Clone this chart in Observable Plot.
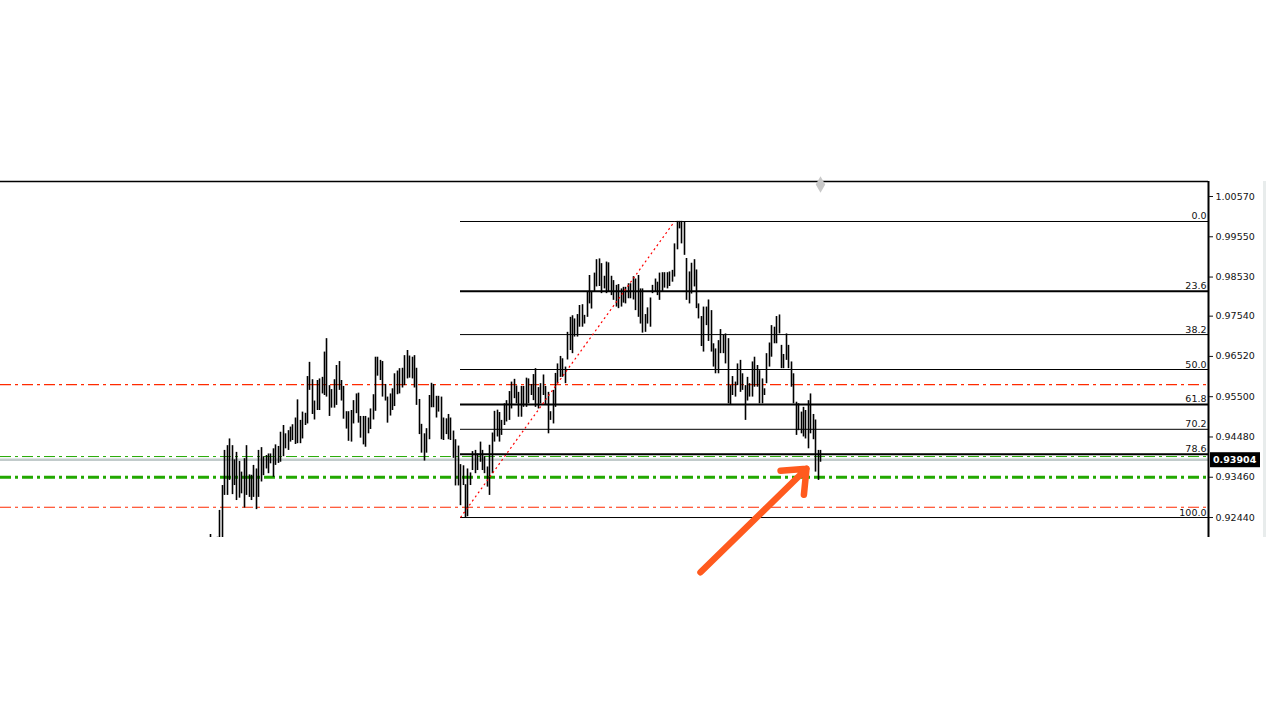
<!DOCTYPE html>
<html><head><meta charset="utf-8">
<script src="https://cdn.jsdelivr.net/npm/d3@7"></script>
<script src="https://cdn.jsdelivr.net/npm/@observablehq/plot@0.6"></script>
<style>
html,body{margin:0;padding:0;background:#fff;overflow:hidden;}
#chart{position:relative;width:1280px;height:720px;}
#edge{position:absolute;left:1263px;top:181px;width:3px;height:356px;background:#e8ecec;}
</style></head><body><div id="chart"><div id="edge"></div></div>
<script>
// Bar highs and lows in pips (price × 10000); null = bar not visible in the picture
const barHigh = [
9201,null,null,9194,9262,9325,9414,9426,9443,9426,
9390,9409,9386,9359,9393,9426,9352,9351,9376,9367,
9414,9421,9398,9401,9405,9405,9418,9428,9424,9460,
9477,9456,9464,9473,9479,9496,9542,9490,9511,9508,
9601,9637,9593,9539,9591,9595,9599,9663,9697,9578,
9568,9593,9629,9639,9591,9576,9512,9512,9515,9540,
9557,9559,9500,9500,9500,9496,9519,9555,9650,9650,
9642,9639,9581,9549,9557,9570,9608,9615,9621,9622,
9654,9667,9653,9650,9654,9622,9543,9480,9456,9469,
9553,9584,9581,9551,9551,9549,9496,9494,9505,9496,
9463,9441,9425,9378,9375,9327,9367,9357,9411,9414,
9405,9435,9414,9398,9372,9427,9458,9513,9516,9510,
9490,9532,9540,9563,9587,9594,9577,9561,9576,9576,
9597,9595,9581,9606,9621,9573,9583,9605,9576,9561,
9512,9566,9609,9633,9652,9646,9625,9713,9751,9755,
9747,9758,9781,9783,9756,9815,9857,9815,9863,9897,
9899,9887,9855,9891,9889,9855,9844,9832,9834,9823,
9827,9827,9836,9836,9854,9848,9857,9823,9823,9758,
9775,9800,9832,9848,9840,9863,9864,9864,9864,9866,
9870,9937,9994,9994,9994,9993,9900,9866,9888,9897,
9871,9785,9753,9777,9777,9795,9768,9684,9671,9692,
9720,9705,9709,9697,9578,9601,9587,9633,9642,9608,
9578,9599,9583,9638,9650,9629,9616,9595,9570,9659,
9686,9730,9726,9753,9757,9680,9657,9709,9680,9638,
9608,9536,9532,9511,9523,9515,9540,9557,9505,9491,
9414,9414
];
const barLow = [
9170,null,null,9175,9180,9185,9300,9300,9338,9302,
9325,9287,9293,9304,9268,9300,9295,9287,9295,9264,
9295,9334,9350,9367,9355,9380,9346,9376,9381,9384,
9398,9418,9414,9435,9439,9429,9431,9431,9443,9477,
9481,9566,9505,9491,9515,9515,9557,9553,9549,9500,
9521,9521,9528,9566,9539,9493,9468,9437,9435,9481,
9507,9483,9445,9428,9422,9456,9467,9491,9513,9602,
9591,9549,9539,9483,9501,9515,9525,9555,9557,9572,
9578,9595,9597,9595,9572,9528,9454,9407,9387,9407,
9441,9522,9522,9496,9511,9441,9439,9454,9441,9439,
9394,9324,9324,9274,9325,9244,9246,9325,9363,9355,
9363,9384,9363,9355,9321,9300,9355,9435,9448,9435,
9452,9477,9486,9490,9519,9545,9532,9498,9498,9523,
9523,9532,9553,9540,9523,9519,9532,9553,9530,9456,
9490,9481,9523,9583,9599,9599,9583,9643,9667,9659,
9701,9701,9726,9726,9734,9751,9785,9772,9815,9828,
9829,9811,9823,9811,9815,9806,9794,9777,9773,9777,
9787,9785,9798,9798,9795,9768,9751,9734,9711,9713,
9734,9726,9811,9815,9806,9794,9815,9825,9823,9829,
9840,9853,9922,9975,9937,9908,9794,9785,9810,9828,
9773,9747,9677,9663,9730,9690,9663,9625,9608,9608,
9659,9659,9633,9532,9528,9553,9549,9578,9561,9566,
9490,9539,9549,9549,9574,9574,9532,9532,9553,9583,
9625,9650,9684,9684,9709,9621,9621,9642,9621,9574,
9532,9452,9464,9456,9448,9443,9418,9456,9441,9359,
9338,9384
];
const yTicks = [1.00570, 0.99550, 0.98530, 0.97540, 0.96520, 0.95500, 0.94480, 0.93460, 0.92440];
const fibRatios = [0, 23.6, 38.2, 50, 61.8, 70.2, 78.6, 100];
const fibHigh = 0.99937, fibLow = 0.92440;
const fibStartBar = 103, fibEndBar = 191;
const redLevels = [0.95808, 0.92700];
const greenThinLevel = [0.93984];
const greenThickLevel = [0.93460];
const bid = 0.93904;
const arrowNote = [{fromBar: 201.6, fromPrice: 0.91054, toBar: 245.2, toPrice: 0.93674}];

// scale extents (visible window of the chart)
const xDomain = [-86.25, 410.6];
const yDomain = [0.91934, 1.00950];

const bars = barHigh.map((h, i) => ({i, hi: h == null ? null : h / 1e4, lo: barLow[i] == null ? null : barLow[i] / 1e4}))
  .filter(d => d.hi != null && d.lo != null);
const fib = fibRatios.map(r => ({r, label: r.toFixed(1), price: fibHigh - r / 100 * (fibHigh - fibLow)}));
const heavy = new Set([23.6, 61.8, 78.6]);
const lastBar = bars[bars.length - 1];
const dashDot = "11,4,3,4";

const plot = Plot.plot({
  width: 1280, height: 720,
  marginTop: 181, marginBottom: 183, marginLeft: 0, marginRight: 72,
  x: {domain: xDomain, axis: null, round: true},
  y: {domain: yDomain},
  style: {fontFamily: "DejaVu Sans, sans-serif", fontSize: "9.5px", color: "#111", background: "transparent", overflow: "visible"},
  marks: [
    Plot.ruleY(fib.filter(d => !heavy.has(d.r)), {y: "price", x1: fibStartBar, x2: xDomain[1], stroke: "#000", strokeWidth: 1}),
    Plot.ruleY(fib.filter(d => heavy.has(d.r)), {y: "price", x1: fibStartBar, x2: xDomain[1], stroke: "#000", strokeWidth: 2}),
    Plot.text(fib, {x: xDomain[1], y: "price", text: "label", textAnchor: "end", lineAnchor: "bottom", dx: -2, dy: -2, fill: "#111"}),
    Plot.ruleY(redLevels, {stroke: "#ff2a00", strokeWidth: 1.2, strokeDasharray: dashDot}),
    Plot.ruleY(greenThinLevel, {stroke: "#22a800", strokeWidth: 1, strokeDasharray: dashDot}),
    Plot.ruleY(greenThickLevel, {stroke: "#22a800", strokeWidth: 3, strokeDasharray: dashDot}),
    Plot.ruleY([bid], {stroke: "#c2cbcb", strokeWidth: 2.5}),
    Plot.ruleX(bars, {x: "i", y1: "lo", y2: "hi", stroke: "#000", strokeWidth: 1.6, clip: true}),
    Plot.link([{a: fibStartBar, b: fibEndBar}], {x1: "a", y1: () => fibLow, x2: "b", y2: () => fibHigh, stroke: "#ff0000", strokeWidth: 1.2, strokeDasharray: "2,3"}),
    Plot.ruleY([yDomain[1]], {stroke: "#000", strokeWidth: 1.5}),
    Plot.ruleX([xDomain[1]], {stroke: "#000", strokeWidth: 2}),
    Plot.axisY({anchor: "right", ticks: yTicks, tickFormat: d => d.toFixed(5), tickSize: 4, tickPadding: 3, fill: "#111"}),
    Plot.dot([lastBar], {x: "i", y: () => yDomain[1], symbol: "diamond", r: 5, fill: "#c8c8c8", dy: 3}),
    Plot.arrow(arrowNote, {x1: "fromBar", y1: "fromPrice", x2: "toBar", y2: "toPrice", stroke: "#ff5a1e", strokeWidth: 6.5, headLength: 6, headAngle: 80, strokeLinecap: "round", strokeLinejoin: "round"})
  ]
});

const ys = plot.scale("y"), xs = plot.scale("x");
const yb = ys.apply(bid), xr = xs.apply(xDomain[1]);
const g = d3.select(plot).append("g").attr("text-anchor", "start");
g.append("rect").attr("x", xr + 2).attr("y", yb - 7).attr("width", 50).attr("height", 15).attr("fill", "#000");
g.append("text").attr("x", xr + 5).attr("y", yb + 0.5).attr("dy", "0.35em").attr("text-anchor", "start").attr("fill", "#fff").attr("font-weight", "bold").attr("font-size", "9.5px").text(bid.toFixed(5));

const host = document.getElementById("chart");
plot.style.position = "absolute"; plot.style.left = "0"; plot.style.top = "0";
host.appendChild(plot);
</script>
</body></html>
